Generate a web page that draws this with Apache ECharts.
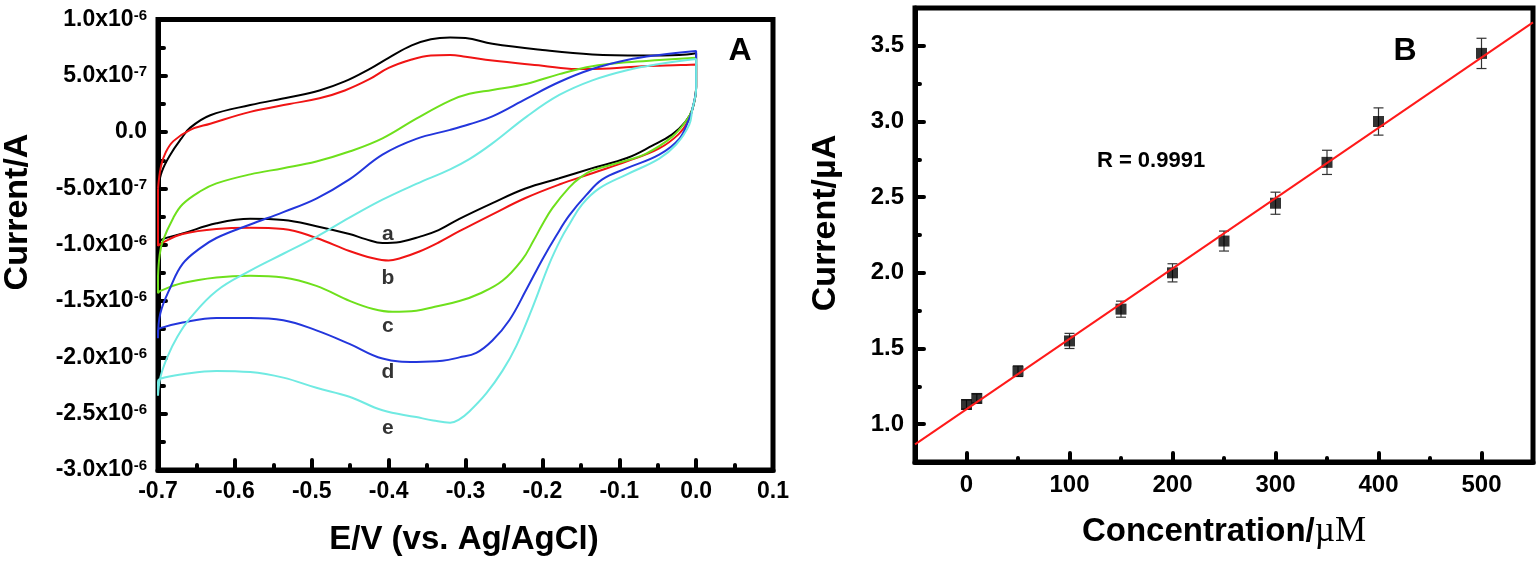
<!DOCTYPE html>
<html><head><meta charset="utf-8">
<script src="https://cdn.jsdelivr.net/npm/echarts@6/dist/echarts.min.js"></script>
<style>html,body{margin:0;padding:0;background:#fff}#c{width:1540px;height:561px}</style>
</head><body><div id="c"></div>
<script>
// ---------- Panel A: cyclic voltammograms (E in V, I in 1e-6 A) ----------
const aUpper = [[-0.700,-0.50],[-0.695,-0.35],[-0.684,-0.20],[-0.670,-0.06],[-0.658,0.04],[-0.632,0.15],[-0.580,0.24],[-0.529,0.31],[-0.490,0.37],[-0.457,0.45],[-0.425,0.56],[-0.400,0.66],[-0.370,0.77],[-0.345,0.825],[-0.320,0.84],[-0.300,0.835],[-0.265,0.785],[-0.200,0.73],[-0.135,0.69],[-0.070,0.68],[-0.022,0.685],[0.000,0.70]];
const aLower = [[0.000,0.40],[-0.005,0.20],[-0.014,0.09],[-0.031,-0.02],[-0.057,-0.12],[-0.090,-0.23],[-0.135,-0.32],[-0.178,-0.41],[-0.222,-0.50],[-0.265,-0.63],[-0.308,-0.77],[-0.335,-0.87],[-0.360,-0.93],[-0.385,-0.975],[-0.408,-0.985],[-0.430,-0.95],[-0.451,-0.905],[-0.494,-0.835],[-0.537,-0.78],[-0.580,-0.77],[-0.624,-0.81],[-0.668,-0.90],[-0.694,-0.95],[-0.700,-0.98]];
const bUpper = [[-0.700,-0.50],[-0.696,-0.30],[-0.690,-0.18],[-0.680,-0.08],[-0.658,0.02],[-0.632,0.075],[-0.580,0.18],[-0.529,0.25],[-0.490,0.30],[-0.457,0.37],[-0.425,0.47],[-0.400,0.57],[-0.370,0.645],[-0.345,0.68],[-0.320,0.685],[-0.300,0.67],[-0.265,0.635],[-0.200,0.59],[-0.156,0.56],[-0.113,0.565],[-0.070,0.585],[-0.020,0.595],[0.000,0.60]];
const bLower = [[0.000,0.40],[-0.005,0.20],[-0.010,0.10],[-0.023,-0.02],[-0.048,-0.145],[-0.090,-0.26],[-0.135,-0.365],[-0.178,-0.465],[-0.222,-0.585],[-0.265,-0.73],[-0.308,-0.88],[-0.335,-0.98],[-0.360,-1.06],[-0.385,-1.12],[-0.400,-1.14],[-0.420,-1.12],[-0.451,-1.055],[-0.494,-0.94],[-0.537,-0.86],[-0.580,-0.85],[-0.624,-0.86],[-0.668,-0.905],[-0.694,-0.98],[-0.700,-1.01]];
const cUpper = [[-0.700,-1.28],[-0.698,-1.10],[-0.694,-0.97],[-0.680,-0.76],[-0.668,-0.64],[-0.645,-0.525],[-0.624,-0.455],[-0.580,-0.375],[-0.537,-0.32],[-0.494,-0.26],[-0.450,-0.17],[-0.408,-0.055],[-0.364,0.12],[-0.320,0.28],[-0.295,0.34],[-0.265,0.375],[-0.220,0.43],[-0.178,0.515],[-0.135,0.585],[-0.090,0.62],[-0.048,0.64],[0.000,0.66]];
const cLower = [[0.000,0.40],[-0.005,0.20],[-0.012,0.11],[-0.031,-0.04],[-0.065,-0.19],[-0.100,-0.27],[-0.135,-0.34],[-0.150,-0.40],[-0.165,-0.49],[-0.187,-0.675],[-0.200,-0.82],[-0.212,-0.97],[-0.226,-1.13],[-0.252,-1.32],[-0.282,-1.435],[-0.308,-1.50],[-0.340,-1.55],[-0.364,-1.585],[-0.395,-1.595],[-0.420,-1.57],[-0.450,-1.50],[-0.494,-1.365],[-0.537,-1.29],[-0.580,-1.275],[-0.624,-1.29],[-0.668,-1.34],[-0.697,-1.41],[-0.700,-1.43]];
const dUpper = [[-0.700,-1.83],[-0.697,-1.61],[-0.684,-1.38],[-0.668,-1.17],[-0.645,-1.03],[-0.624,-0.94],[-0.580,-0.82],[-0.537,-0.71],[-0.494,-0.59],[-0.451,-0.42],[-0.408,-0.20],[-0.364,-0.06],[-0.320,0.02],[-0.295,0.07],[-0.265,0.14],[-0.220,0.30],[-0.178,0.445],[-0.135,0.56],[-0.090,0.64],[-0.048,0.685],[0.000,0.72]];
const dLower = [[0.000,0.40],[-0.005,0.20],[-0.009,0.12],[-0.022,-0.06],[-0.048,-0.20],[-0.090,-0.32],[-0.122,-0.42],[-0.143,-0.56],[-0.165,-0.74],[-0.182,-0.92],[-0.200,-1.13],[-0.221,-1.40],[-0.243,-1.67],[-0.265,-1.85],[-0.286,-1.96],[-0.308,-2.00],[-0.330,-2.03],[-0.364,-2.04],[-0.408,-2.01],[-0.451,-1.88],[-0.494,-1.76],[-0.537,-1.67],[-0.580,-1.65],[-0.624,-1.65],[-0.668,-1.69],[-0.697,-1.74],[-0.700,-1.76]];
const eUpper = [[-0.700,-2.34],[-0.697,-2.18],[-0.688,-2.00],[-0.675,-1.82],[-0.658,-1.65],[-0.624,-1.41],[-0.580,-1.23],[-0.537,-1.08],[-0.494,-0.93],[-0.451,-0.76],[-0.408,-0.60],[-0.364,-0.46],[-0.320,-0.33],[-0.295,-0.24],[-0.265,-0.10],[-0.220,0.14],[-0.178,0.33],[-0.135,0.46],[-0.090,0.55],[-0.048,0.605],[0.000,0.65]];
const eLower = [[0.000,0.38],[-0.005,0.20],[-0.009,0.065],[-0.026,-0.11],[-0.048,-0.235],[-0.090,-0.375],[-0.126,-0.50],[-0.148,-0.64],[-0.165,-0.82],[-0.176,-0.95],[-0.191,-1.17],[-0.213,-1.56],[-0.234,-1.90],[-0.252,-2.12],[-0.273,-2.32],[-0.295,-2.48],[-0.308,-2.55],[-0.320,-2.58],[-0.342,-2.56],[-0.364,-2.53],[-0.408,-2.47],[-0.451,-2.35],[-0.494,-2.27],[-0.537,-2.18],[-0.580,-2.13],[-0.624,-2.12],[-0.668,-2.15],[-0.697,-2.19],[-0.700,-2.22]];
const curveNames = ['a','b','c','d','e'];
const curveLabelPos = [[-0.401,-0.905],[-0.401,-1.30],[-0.401,-1.72],[-0.401,-2.13],[-0.401,-2.63]];
const xTickLabelsA = ['-0.7','-0.6','-0.5','-0.4','-0.3','-0.2','-0.1','0.0','0.1'];
const yTickMantA = ['-3.0','-2.5','-2.0','-1.5','-1.0','-5.0','0.0','5.0','1.0'];
const yTickExpA  = ['-6','-6','-6','-6','-6','-7','','-7','-6'];

// ---------- Panel B: calibration ----------
const conc    = [0, 10, 50, 100, 150, 200, 250, 300, 350, 400, 500];
const current = [1.13, 1.17, 1.35, 1.55, 1.76, 2.00, 2.21, 2.46, 2.73, 3.00, 3.45];
const errBar  = [0.03, 0.03, 0.035, 0.05, 0.053, 0.06, 0.066, 0.073, 0.08, 0.09, 0.10];
const fitX = [-50, 550];
const fitY = [0.866, 3.655];
const xTicksB = [0, 100, 200, 300, 400, 500];
const xMinorB = [50, 150, 250, 350, 450];
const yTicksB = [1.0, 1.5, 2.0, 2.5, 3.0, 3.5];
const yMinorB = [1.25, 1.75, 2.25, 2.75, 3.25];

const FF = '"Liberation Sans", Arial, Helvetica, sans-serif';
const colors = ['#000000', '#f01414', '#6ee01c', '#2336dc', '#70eae2'];
const loops = [[aUpper,aLower],[bUpper,bLower],[cUpper,cLower],[dUpper,dLower],[eUpper,eLower]];

const chart = echarts.init(document.getElementById('c'), null, {renderer: 'canvas'});

const tickStyle = (w) => ({color: '#000', width: w, cap: 'round'});

const cvSeries = loops.map((lp, i) => ({
  type: 'line', xAxisIndex: 0, yAxisIndex: 0,
  data: lp[0].concat(lp[1], [lp[0][0]]),
  showSymbol: false, symbol: 'none', smooth: 0.4,
  lineStyle: {color: colors[i], width: 2}, z: 3,
  animation: false
}));

const option = {
  animation: false,
  backgroundColor: '#fff',
  grid: [
    {left: 158, top: 17, width: 615, height: 453, show: true, borderWidth: 5, borderColor: '#000', containLabel: false},
    {left: 915, top: 8, width: 618, height: 454, show: true, borderWidth: 5, borderColor: '#000', containLabel: false}
  ],
  xAxis: [
    {type: 'value', gridIndex: 0, min: -0.7, max: 0.1, interval: 0.1, position: 'bottom',
     axisLine: {show: true, onZero: false, lineStyle: {color: '#000', width: 5}},
     axisTick: {show: true, inside: true, length: 10, lineStyle: tickStyle(4)},
     minorTick: {show: true, splitNumber: 2, length: 5, lineStyle: tickStyle(4)},
     splitLine: {show: false},
     axisLabel: {margin: 10, fontSize: 23, fontWeight: 'bold', fontFamily: FF, color: '#000',
       formatter: (v) => xTickLabelsA[Math.round((v + 0.7) / 0.1)]}},
    {type: 'value', gridIndex: 1, min: -50, max: 550, position: 'bottom',
     axisLine: {show: true, onZero: false, lineStyle: {color: '#000', width: 5}},
     axisTick: {show: true, inside: true, length: 9, customValues: xTicksB, lineStyle: tickStyle(4)},
     splitLine: {show: false},
     axisLabel: {margin: 11, fontSize: 24, fontWeight: 'bold', fontFamily: FF, color: '#000', customValues: xTicksB,
       formatter: (v) => String(v)}},
    {type: 'value', gridIndex: 1, min: -50, max: 550, position: 'bottom',
     axisLine: {show: false, onZero: false},
     axisTick: {show: true, inside: true, length: 4, customValues: xMinorB, lineStyle: tickStyle(4)},
     splitLine: {show: false}, axisLabel: {show: false}}
  ],
  yAxis: [
    {type: 'value', gridIndex: 0, min: -3, max: 1, interval: 0.5, position: 'left',
     axisLine: {show: true, onZero: false, lineStyle: {color: '#000', width: 5}},
     axisTick: {show: true, inside: true, length: 8, lineStyle: tickStyle(4)},
     minorTick: {show: true, splitNumber: 2, length: 6, lineStyle: tickStyle(4)},
     splitLine: {show: false},
     axisLabel: {margin: 11, color: '#000',
       formatter: (v) => {
         const i = Math.round((v + 3) / 0.5);
         return yTickExpA[i] ? '{m|' + yTickMantA[i] + 'x10}{s|' + yTickExpA[i] + '}' : '{z|' + yTickMantA[i] + '}';
       },
       rich: {
         m: {fontSize: 23, fontWeight: 'bold', fontFamily: FF, color: '#000', lineHeight: 23, padding: [8, 0, 0, 0], verticalAlign: 'bottom'},
         s: {fontSize: 15, fontWeight: 'bold', fontFamily: FF, color: '#000', lineHeight: 15, verticalAlign: 'top'},
         z: {fontSize: 23, fontWeight: 'bold', fontFamily: FF, color: '#000', lineHeight: 23}
       }}},
    {type: 'value', gridIndex: 1, min: 0.75, max: 3.75, position: 'left',
     axisLine: {show: true, onZero: false, lineStyle: {color: '#000', width: 5}},
     axisTick: {show: true, inside: true, length: 9, customValues: yTicksB, lineStyle: tickStyle(4)},
     splitLine: {show: false},
     axisLabel: {margin: 11, fontSize: 24, fontWeight: 'bold', fontFamily: FF, color: '#000', customValues: yTicksB,
       formatter: (v) => v.toFixed(1)}},
    {type: 'value', gridIndex: 1, min: 0.75, max: 3.75, position: 'left',
     axisLine: {show: false, onZero: false},
     axisTick: {show: true, inside: true, length: 5, customValues: yMinorB, lineStyle: tickStyle(4)},
     splitLine: {show: false}, axisLabel: {show: false}}
  ],
  series: cvSeries.concat([
    {type: 'scatter', xAxisIndex: 0, yAxisIndex: 0, data: curveLabelPos, symbolSize: 1,
     itemStyle: {color: 'rgba(0,0,0,0)'}, z: 6,
     label: {show: true, position: 'inside', fontSize: 21, fontWeight: 'bold', fontFamily: FF, color: '#000',
       textBorderWidth: 0, formatter: (p) => curveNames[p.dataIndex]}},
    {type: 'custom', xAxisIndex: 1, yAxisIndex: 1,
     data: conc.map((c, i) => [c, current[i] - errBar[i], current[i] + errBar[i]]),
     encode: {x: 0, y: [1, 2]}, z: 4,
     renderItem: (params, api) => {
       const x = api.value(0);
       const lo = api.coord([x, api.value(1)]);
       const hi = api.coord([x, api.value(2)]);
       const w = 5, st = {stroke: '#333', lineWidth: 1.2};
       return {type: 'group', children: [
         {type: 'line', shape: {x1: lo[0], y1: lo[1], x2: hi[0], y2: hi[1]}, style: st},
         {type: 'line', shape: {x1: lo[0] - w, y1: lo[1], x2: lo[0] + w, y2: lo[1]}, style: st},
         {type: 'line', shape: {x1: hi[0] - w, y1: hi[1], x2: hi[0] + w, y2: hi[1]}, style: st}
       ]};
     }},
    {type: 'scatter', xAxisIndex: 1, yAxisIndex: 1, data: conc.map((c, i) => [c, current[i]]),
     symbol: 'rect', symbolSize: 11, itemStyle: {color: '#000'}, z: 5},
    {type: 'line', xAxisIndex: 1, yAxisIndex: 1, data: fitX.map((x, i) => [x, fitY[i]]),
     showSymbol: false, symbol: 'none', lineStyle: {color: '#ff1a1a', width: 2}, z: 6}
  ]),
  graphic: [
    {type: 'text', x: 18, y: 212, rotation: Math.PI / 2, z: 10,
     style: {text: 'Current/A', font: 'bold 34px ' + FF, fill: '#000', align: 'center', verticalAlign: 'middle', textAlign: 'center', textVerticalAlign: 'middle'}},
    {type: 'text', x: 464, y: 540, z: 10,
     style: {text: 'E/V (vs. Ag/AgCl)', font: 'bold 33px ' + FF, fill: '#000', align: 'center', verticalAlign: 'middle', textAlign: 'center', textVerticalAlign: 'middle'}},
    {type: 'text', x: 740, y: 51, z: 10,
     style: {text: 'A', font: 'bold 32px ' + FF, fill: '#000', align: 'center', verticalAlign: 'middle', textAlign: 'center', textVerticalAlign: 'middle'}},
    {type: 'text', x: 826, y: 223, rotation: Math.PI / 2, z: 10,
     style: {text: 'Current/µA', font: 'bold 34px ' + FF, fill: '#000', align: 'center', verticalAlign: 'middle', textAlign: 'center', textVerticalAlign: 'middle'}},
    {type: 'text', x: 1224, y: 532, z: 10,
     style: {text: '{a|Concentration/}{b|µM}', align: 'center', verticalAlign: 'middle', textAlign: 'center', textVerticalAlign: 'middle',
       rich: {a: {fontSize: 33, fontWeight: 'bold', fontFamily: FF, fill: '#000', color: '#000'},
              b: {fontSize: 35, fontWeight: 'normal', fontFamily: '"Liberation Serif", "Times New Roman", serif', fill: '#000', color: '#000'}}}},
    {type: 'text', x: 1405, y: 51, z: 10,
     style: {text: 'B', font: 'bold 32px ' + FF, fill: '#000', align: 'center', verticalAlign: 'middle', textAlign: 'center', textVerticalAlign: 'middle'}},
    {type: 'text', x: 1151, y: 161, z: 10,
     style: {text: 'R = 0.9991', font: 'bold 22px ' + FF, fill: '#000', align: 'center', verticalAlign: 'middle', textAlign: 'center', textVerticalAlign: 'middle'}}
  ]
};
chart.setOption(option);
</script></body></html>
